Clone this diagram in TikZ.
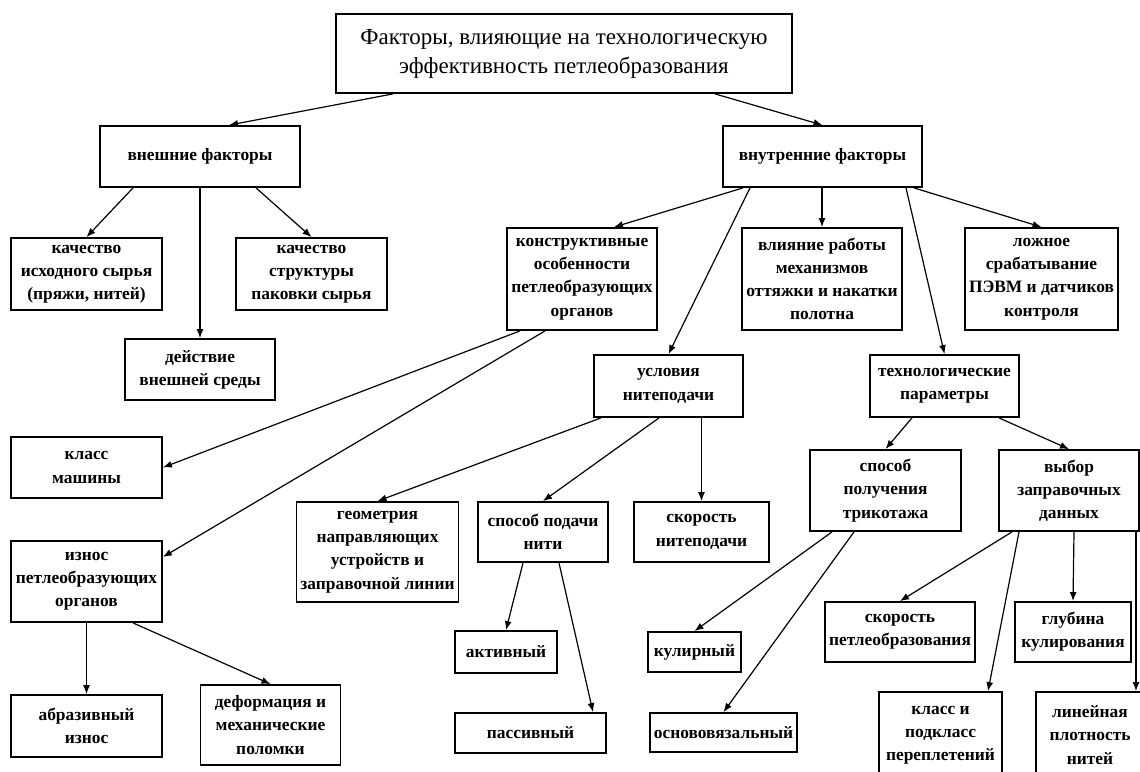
\documentclass[tikz,border=0pt]{standalone}
\usepackage{fontspec}
\setmainfont{Liberation Serif}
\usetikzlibrary{arrows.meta,calc}
\tikzset{
  box/.style={rectangle, draw=black, line width=0.9pt, fill=white, align=center,
              inner sep=2pt, font=\fontsize{8.7}{11.6}\selectfont\bfseries},
  sz/.style 2 args={minimum width=#1pt, minimum height=#2pt},
  titlebox/.style={box, font=\fontsize{11.5}{14.5}\selectfont},
  flow/.style={-{Latex[length=4.5pt,width=3.5pt]}, line width=0.6pt},
}

\begin{document}
\begin{tikzpicture}[x=0.5pt, y=-0.5pt]
\useasboundingbox (0,0) rectangle (1140,771);
\clip (0,0) rectangle (1140,771);
% top levels
\node[titlebox, sz={228}{39.5}] (top) at (564,53.5)
 {Факторы, влияющие на технологическую\\эффективность петлеобразования};
\node[box, sz={100}{30.5}] (ext) at (200,156.5) {внешние факторы};
\node[box, sz={99.5}{30.5}] (int) at (822.5,156.5) {внутренние факторы};
% external factors
\node[box, sz={75.5}{36}] (q1) at (86.5,274) {качество\\исходного сырья\\(пряжи, нитей)};
\node[box, sz={75.5}{36}] (q2) at (311.5,274) {качество\\структуры\\паковки сырья};
\node[box, sz={75}{30.5}] (env) at (200,369.5) {действие\\внешней среды};
% internal factors
\node[box, sz={75}{51}] (des) at (582,279) {конструктивные\\особенности\\петлеобразующих\\органов};
\node[box, sz={75}{51}] (mech) at (822,279) {влияние работы\\механизмов\\оттяжки и накатки\\полотна};
\node[box, sz={75.5}{51}] (fls) at (1041.5,279) {ложное\\срабатывание\\ПЭВМ и датчиков\\контроля};
\node[box, sz={74.5}{31}] (feed) at (668.5,386) {условия\\нитеподачи};
\node[box, sz={74.5}{31}] (tech) at (944.5,386) {технологические\\параметры};
% design of loop-forming parts
\node[box, sz={75.5}{30.5}] (cls) at (86.5,467.5) {класс\\машины};
\node[box, sz={75.5}{40.5}] (wear) at (86.5,581.5) {износ\\петлеобразующих\\органов};
\node[box, sz={75.5}{31}] (abr) at (86.5,726) {абразивный\\износ};
\node[box, sz={70}{40}] (dfm) at (270.5,725) {деформация и\\механические\\поломки};
% yarn feed
\node[box, sz={75.5}{50}] (geo) at (377.5,552) {геометрия\\направляющих\\устройств и\\заправочной линии};
\node[box, sz={65}{30}] (way) at (543,532) {способ подачи\\нити};
\node[box, sz={67.5}{30}] (spd) at (701.5,532) {скорость\\нитеподачи};
\node[box, sz={51}{21}] (act) at (506,652) {активный};
\node[box, sz={75.5}{20}] (pas) at (530.5,733) {пассивный};
% technological parameters
\node[box, sz={75.5}{40.5}] (knit) at (885.5,490.5) {способ\\получения\\трикотажа};
\node[box, sz={70}{40.5}] (sel) at (1069,490.5) {выбор\\заправочных\\данных};
\node[box, sz={46.5}{20}] (kul) at (694.5,652) {кулирный};
\node[box, sz={73.5}{19.5}] (warp) at (723.5,732.5) {основовязальный};
\node[box, sz={75}{30}] (lsp) at (900,632) {скорость\\петлеобразования};
\node[box, sz={58}{30}] (dep) at (1073,632) {глубина\\кулирования};
\node[box, sz={61.5}{43}] (wv) at (940.5,735) {класс и\\подкласс\\переплетений};
\node[box, sz={54}{43}] (lin) at (1090,735) {линейная\\плотность\\нитей};
% connectors
\draw[flow] ($(top.south)+(-171,0)$) -- ($(ext.north)+(29,0)$);
\draw[flow] ($(top.south)+(151,0)$) -- (int.north);
\draw[flow] ($(ext.south)+(-67,0)$) -- (q1.north);
\draw[flow] (ext.south) -- (env.north);
\draw[flow] ($(ext.south)+(56,0)$) -- (q2.north);
\draw[flow] ($(int.south)+(-79.5,0)$) -- ($(des.north)+(32,0)$);
\draw[flow] (mech.north |- int.south) -- (mech.north);
\draw[flow] ($(int.south)+(91.5,0)$) -- (fls.north);
\draw[flow] ($(int.south)+(-72.5,0)$) -- (feed.north);
\draw[flow] ($(int.south)+(83.5,0)$) -- (tech.north);
\draw[flow] ($(des.south)+(-62,0)$) -- (cls.east);
\draw[flow] ($(des.south)+(-37,0)$) -- ($(wear.east)+(0,-24.5)$);
\draw[flow] (wear.south) -- (abr.north);
\draw[flow] ($(wear.south)+(46.5,0)$) -- (dfm.north);
\draw[flow] ($(feed.south)+(-67.5,0)$) -- (geo.north);
\draw[flow] ($(feed.south)+(-9.5,0)$) -- (way.north);
\draw[flow] (spd.north |- feed.south) -- (spd.north);
\draw[flow] ($(way.south)+(-20,0)$) -- (act.north);
\draw[flow] ($(way.south)+(16,0)$) -- ($(pas.north)+(62.5,0)$);
\draw[flow] ($(tech.south)+(-32.5,0)$) -- (knit.north);
\draw[flow] ($(tech.south)+(54.5,0)$) -- (sel.north);
\draw[flow] ($(knit.south)+(-53.5,0)$) -- (kul.north);
\draw[flow] ($(knit.south)+(-31.5,0)$) -- (warp.north);
\draw[flow] ($(sel.south)+(-57,0)$) -- (lsp.north);
\draw[flow] ($(sel.south)+(-50,0)$) -- ($(wv.north)+(47.5,0)$);
\draw[flow] ($(sel.south)+(5,0)$) -- (dep.north);
\coordinate (r) at ($(sel.south)+(67,0)$);
\draw[flow] (r) -- (r |- lin.north);
\end{tikzpicture}
\end{document}
